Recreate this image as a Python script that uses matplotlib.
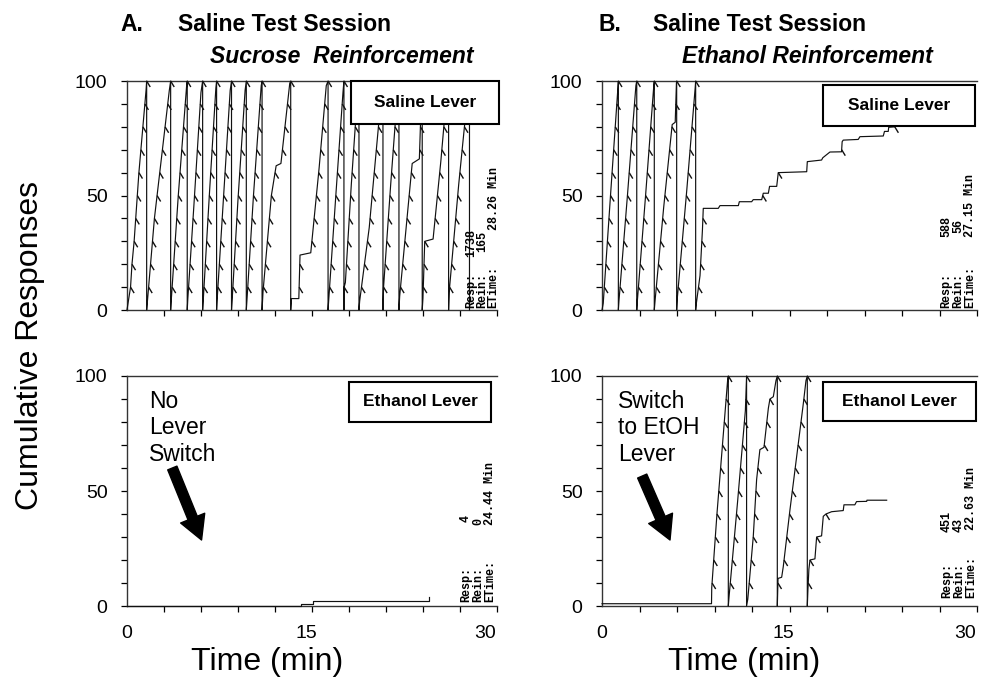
import numpy as np
import matplotlib
matplotlib.use("Agg")
import matplotlib.pyplot as plt
from matplotlib.patches import Rectangle

plt.rcParams['font.family'] = ['Liberation Sans', 'DejaVu Sans']

# cumulative records, one list of (time in min, count) breakpoints per pen sweep
# a sweep that ends at 100 is followed by a pen reset to 0
sucrose_saline = [
    [(0, 0), (0.3, 10), (0.42, 20), (0.6, 30), (1.0, 60), (1.6, 96), (1.65, 100)],
    [(1.65, 0), (1.7, 3), (2.3, 40), (3.55, 96), (3.66, 100)],
    [(3.66, 0), (3.72, 5), (4.3, 50), (5.0, 98), (5.05, 100)],
    [(5.05, 0), (5.1, 5), (5.6, 45), (6.2, 95), (6.34, 100)],
    [(6.34, 0), (6.4, 5), (6.9, 50), (7.45, 97), (7.51, 100)],
    [(7.51, 0), (7.55, 4), (8.1, 50), (8.65, 96), (8.76, 100)],
    [(8.76, 0), (8.82, 5), (9.3, 48), (9.9, 96), (10.0, 100)],
    [(10.0, 0), (10.05, 4), (10.6, 50), (11.25, 98), (11.32, 100)],
    [(11.32, 0), (11.4, 8), (12.1, 50), (12.5, 63), (12.9, 64), (13.64, 99), (13.72, 100)],
    [(13.72, 0), (13.78, 5), (14.4, 5), (14.5, 24), (15.4, 25), (16.1, 62), (16.7, 98), (16.85, 100)],
    [(16.85, 0), (16.9, 4), (17.5, 50), (18.1, 95), (18.18, 100)],
    [(18.18, 0), (18.2, 10), (18.3, 12), (18.8, 55), (19.35, 97), (19.44, 100)],
    [(19.44, 0), (19.5, 4), (20.3, 36), (21.35, 96), (21.45, 100)],
    [(21.45, 0), (21.5, 10), (22.1, 55), (22.7, 97), (22.79, 100)],
    [(22.79, 0), (22.85, 6), (23.9, 64), (24.5, 66), (24.7, 98), (24.74, 100)],
    [(24.74, 0), (24.8, 5), (24.95, 30), (25.65, 31), (26.3, 65), (26.85, 98), (26.95, 100)],
    [(26.95, 0), (27.0, 8), (27.8, 55), (28.6, 97), (28.7, 100)],
]
sucrose_ethanol = [
    [(0, 0), (14.6, 0), (14.6, 1), (15.6, 1), (15.6, 2), (25.3, 2), (25.3, 4)],
]
ethanol_saline = [
    [(0, 0), (0.1, 3), (0.7, 50), (1.3, 96), (1.35, 100)],
    [(1.35, 0), (1.4, 4), (2.1, 50), (2.8, 98), (2.87, 100)],
    [(2.87, 0), (2.92, 4), (3.6, 50), (4.28, 98), (4.32, 100)],
    [(4.32, 0), (4.4, 5), (5.1, 45), (5.8, 81), (6.05, 82), (6.15, 99), (6.17, 100)],
    [(6.17, 0), (6.22, 5), (7.0, 52), (7.7, 97), (7.74, 100)],
    [(7.74, 0), (7.8, 3), (8.1, 15), (8.3, 35), (8.37, 44.4), (9.61, 44.4), (9.75, 45.6),
     (11.27, 45.6), (11.35, 47.3), (12.37, 47.3), (12.5, 48.2), (13.2, 48.2), (13.33, 51),
     (13.75, 51), (13.85, 54), (14.44, 54), (14.57, 60), (16.92, 60.4), (16.97, 64.8),
     (18.15, 65.5), (18.25, 66.5), (18.84, 69), (19.8, 69.1), (19.85, 73.5), (19.94, 74.2),
     (21.18, 74.5), (21.32, 75.7), (23.25, 76), (23.35, 78), (23.66, 78), (23.7, 79.8),
     (24.2, 80), (24.3, 84), (25.5, 86), (27.15, 88)],
]
ethanol_ethanol = [
    [(0, 1), (9.05, 1), (9.07, 8), (9.5, 40), (10.38, 98), (10.44, 100)],
    [(10.44, 0), (10.5, 4), (11.2, 45), (11.85, 85), (11.95, 100)],
    [(11.95, 0), (12.05, 3), (12.5, 30), (12.78, 55), (13.05, 68), (13.39, 69), (13.75, 86),
     (13.88, 90), (14.16, 91), (14.38, 98), (14.49, 100)],
    [(14.49, 0), (14.55, 12), (14.85, 12.5), (14.98, 17), (15.54, 42), (16.09, 65),
     (16.64, 88), (16.86, 98), (16.97, 100)],
    [(16.97, 0), (17.02, 7), (17.1, 16), (17.19, 20), (17.6, 20.5), (17.74, 30), (18.15, 30.5),
     (18.29, 39), (18.51, 40), (18.98, 41), (19.94, 41.5), (20.0, 44), (20.9, 44),
     (21.04, 45.4), (21.88, 45.5), (21.9, 46), (23.53, 46)],
]

stats = {
    'A_top': ('1738', '165', '28.26 Min'),
    'A_bot': ('4', '0', '24.44 Min'),
    'B_top': ('588', '56', '27.15 Min'),
    'B_bot': ('451', '43', '22.63 Min'),
}

FR = 10  # a reinforcer pip every 10 responses


def draw_record(ax, sweeps, pips=True):
    ts, cs = [], []
    for sw in sweeps:
        t = [p[0] for p in sw]
        c = [p[1] for p in sw]
        if c[-1] >= 100:
            t.append(t[-1])
            c.append(0)
        ts += t
        cs += c
        if pips:
            tt = np.array([p[0] for p in sw])
            cc = np.array([p[1] for p in sw])
            for k in range(FR, 101, FR):
                idx = np.nonzero(cc >= k)[0]
                if len(idx) == 0:
                    continue
                i = idx[0]
                if i == 0:
                    tk = tt[0]
                else:
                    f = (k - cc[i - 1]) / (cc[i] - cc[i - 1])
                    tk = tt[i - 1] + f * (tt[i] - tt[i - 1])
                ax.plot([tk, tk + 0.3], [k, k - 2.6], color='#111111', lw=1.0,
                        solid_capstyle='butt', clip_on=False, zorder=3)
    ax.plot(ts, cs, color='#111111', lw=0.85, clip_on=False, zorder=3)


def style(ax, xlabels):
    ax.set_xlim(0, 31)
    ax.set_ylim(0, 100)
    ax.spines['right'].set_visible(False)
    for s in ['left', 'bottom', 'top']:
        ax.spines[s].set_linewidth(1.0)
        ax.spines[s].set_color('#333333')
    ax.set_yticks([0, 50, 100])
    ax.set_yticks(np.arange(0, 101, 10), minor=True)
    ax.set_xticks([0, 15, 30])
    ax.set_xticks(np.linspace(0, 31, 11), minor=True)
    ax.tick_params(axis='y', which='both', length=4, width=0.9, direction='out', labelsize=14, pad=10)
    ax.tick_params(axis='x', which='major', length=0, labelsize=14, pad=14)
    ax.tick_params(axis='x', which='minor', length=4, width=0.9, direction='out')
    if not xlabels:
        ax.set_xticklabels([])


def lever_box(ax, x0, y0, x1, y1, label):
    ax.add_patch(Rectangle((x0, y0), x1 - x0, y1 - y0, transform=ax.transAxes,
                           facecolor='white', edgecolor='black', lw=1.5, zorder=5, clip_on=False))
    ax.text((x0 + x1) / 2, (y0 + y1) / 2, label, transform=ax.transAxes, ha='center',
            va='center', fontsize=12.5, fontweight='bold', zorder=6)


def stat_cols(ax, xs, ybot, yval, vals):
    labels = ['Resp:', 'Rein:', 'ETime:']
    for x, yv, lab, v in zip(xs, yval, labels, vals):
        ax.text(x, ybot, lab, transform=ax.transAxes, rotation=90, ha='center', va='bottom',
                fontsize=8.5, family='Liberation Mono', fontweight='bold', zorder=6)
        ax.text(x, yv, v, transform=ax.transAxes, rotation=90, ha='center', va='bottom',
                fontsize=8.5, family='Liberation Mono', fontweight='bold', zorder=6)


fig = plt.figure(figsize=(9.85, 6.85), dpi=100)
axA1 = fig.add_axes([0.1289, 0.5474, 0.3756, 0.3343])
axA2 = fig.add_axes([0.1289, 0.1153, 0.3756, 0.3358])
axB1 = fig.add_axes([0.6112, 0.5474, 0.3807, 0.3343])
axB2 = fig.add_axes([0.6112, 0.1153, 0.3807, 0.3358])

draw_record(axA1, sucrose_saline)
draw_record(axA2, sucrose_ethanol, pips=False)
draw_record(axB1, ethanol_saline)
draw_record(axB2, ethanol_ethanol)

style(axA1, False)
style(axA2, True)
style(axB1, False)
style(axB2, True)

lever_box(axA1, 0.605, 0.812, 1.005, 1.0, 'Saline Lever')
lever_box(axA2, 0.600, 0.800, 0.984, 0.974, 'Ethanol Lever')
lever_box(axB1, 0.589, 0.803, 0.995, 0.983, 'Saline Lever')
lever_box(axB2, 0.589, 0.804, 0.997, 0.974, 'Ethanol Lever')

stat_cols(axA1, [0.930, 0.960, 0.991], 0.01, [0.231, 0.253, 0.349], stats['A_top'])
stat_cols(axA2, [0.916, 0.950, 0.982], 0.017, [0.365, 0.352, 0.352], stats['A_bot'])
stat_cols(axB1, [0.918, 0.950, 0.982], 0.01, [0.320, 0.336, 0.320], stats['B_top'])
stat_cols(axB2, [0.920, 0.952, 0.984], 0.035, [0.320, 0.320, 0.330], stats['B_bot'])

# annotations
axA2.text(0.06, 0.94, 'No\nLever\nSwitch', transform=axA2.transAxes, ha='left', va='top',
          fontsize=16.5, linespacing=1.2)
axB2.text(0.042, 0.94, 'Switch\nto EtOH\nLever', transform=axB2.transAxes, ha='left', va='top',
          fontsize=16.5, linespacing=1.2)
arrow = dict(arrowstyle='simple,head_length=1.0,head_width=1.1,tail_width=0.42',
             mutation_scale=17, fc='black', ec='black', shrinkA=0, shrinkB=0)
axA2.annotate('', xy=(6.25, 28.7), xytext=(3.8, 60), arrowprops=arrow)
axB2.annotate('', xy=(5.62, 28.7), xytext=(3.32, 56.5), arrowprops=arrow)

# axis labels
for ax in (axA2, axB2):
    ax.text(0.378, -0.243, 'Time (min)', transform=ax.transAxes, ha='center', va='center',
            fontsize=23)
fig.text(30 / 985, 1 - 345 / 685, 'Cumulative Responses', rotation=90, ha='center',
         va='center', fontsize=23)

# titles
fig.text(120 / 985, 1 - 31 / 685, 'A.', fontsize=16.5, fontweight='bold', va='baseline')
fig.text(178 / 985, 1 - 31 / 685, 'Saline Test Session', fontsize=16.5, fontweight='bold', va='baseline')
fig.text(210 / 985, 1 - 63 / 685, 'Sucrose  Reinforcement', fontsize=16.5, fontweight='bold',
         fontstyle='italic', va='baseline')
fig.text(598 / 985, 1 - 31 / 685, 'B.', fontsize=16.5, fontweight='bold', va='baseline')
fig.text(653 / 985, 1 - 31 / 685, 'Saline Test Session', fontsize=16.5, fontweight='bold', va='baseline')
fig.text(682 / 985, 1 - 63 / 685, 'Ethanol Reinforcement', fontsize=16.5, fontweight='bold',
         fontstyle='italic', va='baseline')

fig.savefig('out.png', dpi=100)
